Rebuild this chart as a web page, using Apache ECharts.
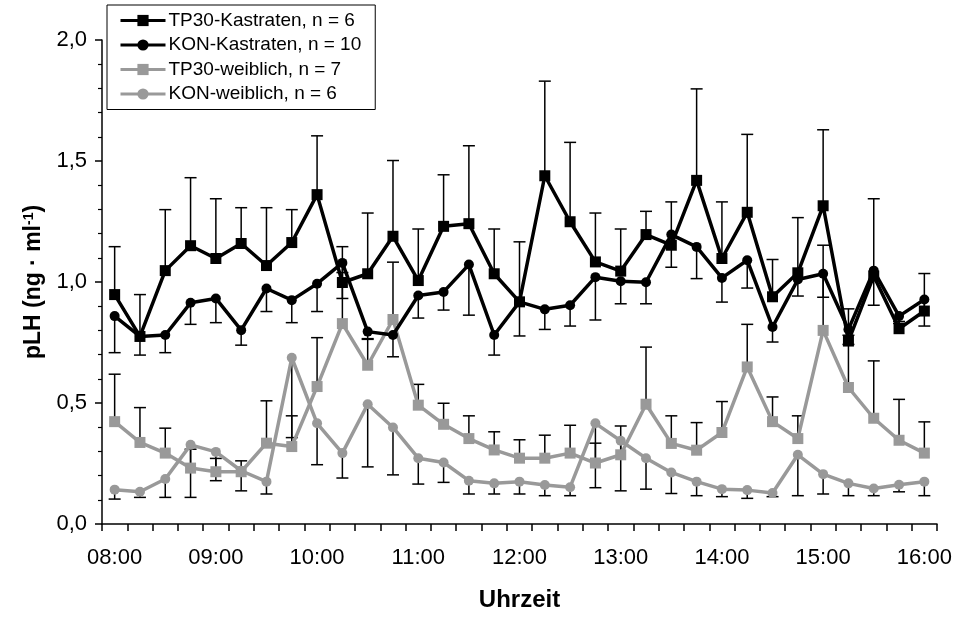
<!DOCTYPE html>
<html>
<head>
<meta charset="utf-8">
<script src="https://cdn.jsdelivr.net/npm/echarts@6/dist/echarts.min.js"></script>
<style>
  html, body { margin: 0; padding: 0; background: #fff; }
  #chart { width: 957px; height: 617px; }
</style>
</head>
<body>
<div id="chart"></div>
<script>
// Zeitpunkte (alle 15 min)
var times = ["08:00", "08:15", "08:30", "08:45", "09:00", "09:15", "09:30", "09:45",
  "10:00", "10:15", "10:30", "10:45", "11:00", "11:15", "11:30", "11:45",
  "12:00", "12:15", "12:30", "12:45", "13:00", "13:15", "13:30", "13:45",
  "14:00", "14:15", "14:30", "14:45", "15:00", "15:15", "15:30", "15:45", "16:00"];

// Mittelwerte pLH (ng/ml)
var tp30Kastraten = [0.948, 0.775, 1.047, 1.150, 1.097, 1.159, 1.068, 1.163, 1.361, 0.998,
  1.034, 1.189, 1.006, 1.230, 1.241, 1.034, 0.918, 1.439, 1.249,
  1.083, 1.045, 1.196, 1.152, 1.420, 1.097, 1.288, 0.939, 1.038,
  1.315, 0.756, 1.025, 0.807, 0.880];
var konKastraten = [0.859, 0.775, 0.781, 0.914, 0.932, 0.801, 0.973, 0.925, 0.993, 1.079,
  0.795, 0.781, 0.944, 0.959, 1.072, 0.781, 0.918, 0.887, 0.904,
  1.020, 1.003, 0.999, 1.196, 1.145, 1.017, 1.090, 0.814, 1.010,
  1.034, 0.804, 1.047, 0.859, 0.928];
var tp30Weiblich = [0.423, 0.337, 0.293, 0.231, 0.216, 0.216, 0.334, 0.320, 0.568, 0.828,
  0.656, 0.845, 0.491, 0.412, 0.353, 0.306, 0.272, 0.272, 0.293,
  0.252, 0.286, 0.495, 0.333, 0.305, 0.378, 0.649, 0.423, 0.353,
  0.800, 0.564, 0.437, 0.346, 0.293];
var konWeiblich = [0.142, 0.133, 0.186, 0.327, 0.298, 0.220, 0.175, 0.687, 0.416, 0.293,
  0.495, 0.399, 0.272, 0.254, 0.179, 0.168, 0.175, 0.161, 0.152,
  0.416, 0.344, 0.272, 0.213, 0.175, 0.144, 0.140, 0.128, 0.286,
  0.206, 0.168, 0.147, 0.162, 0.175];

// SEM (TP30 nach oben, KON nach unten gezeichnet)
var tp30KastratenSem = [0.198, 0.173, 0.252, 0.281, 0.247, 0.148, 0.239, 0.136, 0.243, 0.148,
  0.251, 0.313, 0.213, 0.213, 0.322, 0.185, 0.248, 0.391, 0.328,
  0.202, 0.174, 0.096, 0.179, 0.378, 0.234, 0.322, 0.154, 0.228,
  0.314, 0.133, 0.319, 0.030, 0.155];
var konKastratenSem = [0.151, 0.077, 0.073, 0.089, 0.100, 0.062, 0.095, 0.093, 0.115, 0.147,
  0.032, 0.090, 0.093, 0.075, 0.209, 0.083, 0.141, 0.083, 0.086,
  0.177, 0.093, 0.089, 0.135, 0.131, 0.100, 0.115, 0.062, 0.068,
  0.097, 0.062, 0.143, 0.030, 0.110];
var tp30WeiblichSem = [0.196, 0.144, 0.103, 0.078, 0.055, 0.045, 0.175, 0.127, 0.202, 0.211,
  0.110, 0.237, 0.086, 0.087, 0.094, 0.075, 0.076, 0.095, 0.115,
  0.082, 0.119, 0.236, 0.114, 0.114, 0.128, 0.176, 0.102, 0.094,
  0.352, 0.216, 0.237, 0.169, 0.129];
var konWeiblichSem = [0.039, 0.023, 0.076, 0.217, 0.119, 0.083, 0.051, 0.330, 0.171, 0.103,
  0.259, 0.196, 0.107, 0.082, 0.055, 0.044, 0.051, 0.044, 0.035,
  0.266, 0.207, 0.128, 0.087, 0.058, 0.031, 0.034, 0.015, 0.169,
  0.082, 0.051, 0.030, 0.029, 0.058];

var yTicks = [0, 0.5, 1.0, 1.5, 2.0];

var FONT = "Arial, 'Liberation Sans', sans-serif";
var GRAY = "#999999";

var myChart = echarts.init(document.getElementById("chart"));

// Fehlerbalken als custom series
function errorSeries(name, values, sem, dir) {
  var data = [];
  for (var i = 0; i < values.length; i++) {
    data.push([i, values[i], values[i] + dir * sem[i]]);
  }
  return {
    name: name + "-err",
    type: "custom",
    z: 1,
    silent: true,
    encode: { x: 0, y: [1, 2] },
    data: data,
    renderItem: function(params, api) {
      var p1 = api.coord([api.value(0), api.value(1)]);
      var p2 = api.coord([api.value(0), api.value(2)]);
      var half = 6;
      var style = { stroke: "#000", lineWidth: 1.5 };
      return {
        type: "group",
        children: [
          { type: "line", shape: { x1: p1[0], y1: p1[1], x2: p2[0], y2: p2[1] }, style: style },
          { type: "line", shape: { x1: p2[0] - half, y1: p2[1], x2: p2[0] + half, y2: p2[1] }, style: style }
        ]
      };
    }
  };
}

function lineSeries(name, values, color, symbol, z) {
  return {
    name: name,
    type: "line",
    data: values,
    z: z,
    symbol: symbol,
    symbolSize: symbol === "rect" ? 11 : 10,
    showAllSymbol: true,
    lineStyle: { color: color, width: 3.5 },
    itemStyle: { color: color, borderWidth: 0 },
    emphasis: { disabled: true }
  };
}

var option = {
  animation: false,
  backgroundColor: "#fff",
  textStyle: { fontFamily: FONT, color: "#000" },
  grid: { left: 102, right: 20, top: 40, bottom: 92, containLabel: false },
  legend: {
    orient: "vertical",
    left: 107,
    top: 5,
    itemWidth: 45,
    itemHeight: 14,
    itemGap: 5.5,
    padding: [6, 14, 6, 12],
    borderColor: "#000",
    borderWidth: 1,
    selectedMode: false,
    lineStyle: { width: 3 },
    textStyle: { fontFamily: FONT, fontSize: 19, color: "#000", padding: [0, 0, 0, -2] },
    data: ["TP30-Kastraten, n = 6", "KON-Kastraten, n = 10", "TP30-weiblich, n = 7", "KON-weiblich, n = 6"]
  },
  xAxis: {
    type: "category",
    data: times,
    boundaryGap: true,
    name: "Uhrzeit",
    nameLocation: "middle",
    nameGap: 64,
    nameTextStyle: { fontFamily: FONT, fontSize: 24, fontWeight: "bold", color: "#000" },
    axisLine: { lineStyle: { color: "#000", width: 1.5 } },
    axisTick: { show: true, interval: 0, length: 7, lineStyle: { color: "#000", width: 1.5 } },
    axisLabel: { interval: 3, fontSize: 22, color: "#000", margin: 23, fontFamily: FONT },
    splitLine: { show: false }
  },
  yAxis: {
    type: "value",
    min: yTicks[0],
    max: yTicks[yTicks.length - 1],
    interval: yTicks[1] - yTicks[0],
    name: "{b|pLH (ng · ml}{s|-1}{b|)}",
    nameLocation: "middle",
    nameRotate: 90,
    nameGap: 57,
    nameTextStyle: {
      rich: {
        b: { fontFamily: FONT, fontSize: 23, fontWeight: "bold", color: "#000" },
        s: { fontFamily: FONT, fontSize: 14, fontWeight: "bold", color: "#000", verticalAlign: "top", padding: [0, 0, 8, 0] }
      }
    },
    axisLine: { show: true, lineStyle: { color: "#000", width: 1.5 } },
    axisTick: { show: true, length: 7, lineStyle: { color: "#000", width: 1.5 } },
    minorTick: { show: true, splitNumber: 5, length: 4, lineStyle: { color: "#000", width: 1.2 } },
    axisLabel: {
      fontSize: 22,
      color: "#000",
      margin: 15,
      fontFamily: FONT,
      formatter: function(v) { return v.toFixed(1).replace(".", ","); }
    },
    splitLine: { show: false },
    minorSplitLine: { show: false }
  },
  series: [
    errorSeries("kw", konWeiblich, konWeiblichSem, -1),
    errorSeries("tw", tp30Weiblich, tp30WeiblichSem, 1),
    errorSeries("kk", konKastraten, konKastratenSem, -1),
    errorSeries("tk", tp30Kastraten, tp30KastratenSem, 1),
    lineSeries("KON-weiblich, n = 6", konWeiblich, GRAY, "circle", 2),
    lineSeries("TP30-weiblich, n = 7", tp30Weiblich, GRAY, "rect", 3),
    lineSeries("KON-Kastraten, n = 10", konKastraten, "#000", "circle", 4),
    lineSeries("TP30-Kastraten, n = 6", tp30Kastraten, "#000", "rect", 5)
  ]
};

myChart.setOption(option);
</script>
</body>
</html>
